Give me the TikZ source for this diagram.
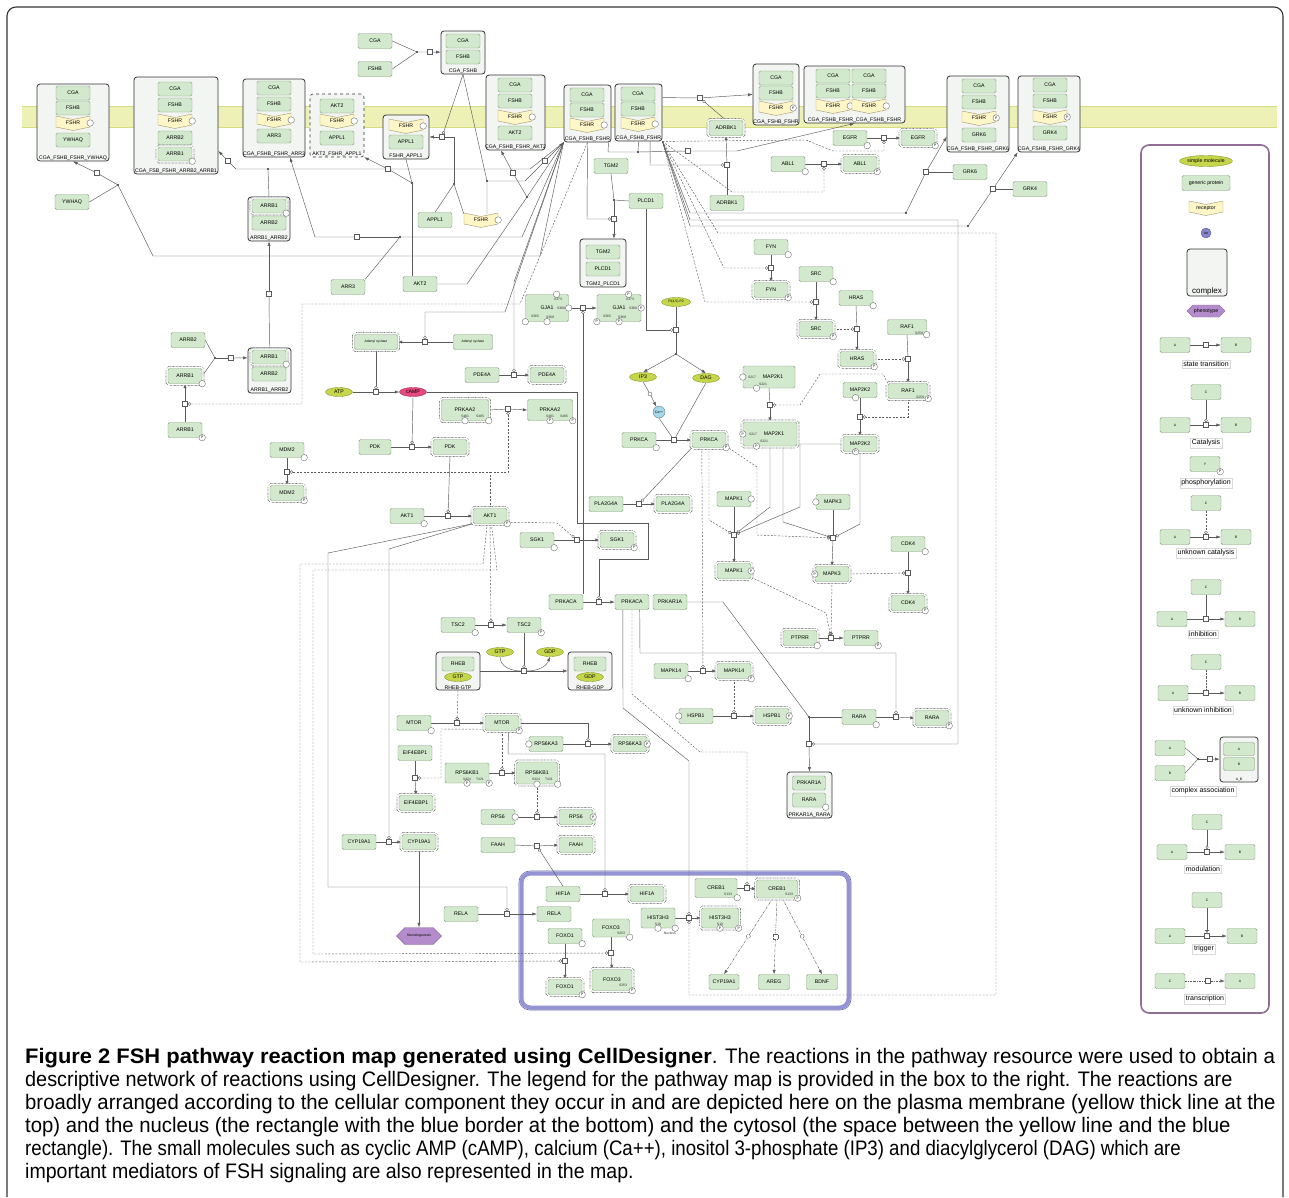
\documentclass[tikz,border=0pt]{standalone}
\usepackage{fontspec}
\usepackage{graphicx}
\setmainfont{Liberation Sans}
\newfontfamily\capfont[FakeStretch=0.946, BoldFeatures={FakeStretch=1.01}]{Liberation Sans}
\usetikzlibrary{positioning,fit,shapes.geometric,shapes.symbols,arrows,arrows.meta}

\definecolor{protfill}{HTML}{D3E9CD}
\definecolor{protline}{HTML}{7E9E7A}
\definecolor{actline}{HTML}{707070}
\definecolor{rcptfill}{HTML}{FFF6C8}
\definecolor{rcptline}{HTML}{A69E72}
\definecolor{membfill}{HTML}{EEF1B6}
\definecolor{membline}{HTML}{D6DC82}
\definecolor{cplxfill}{HTML}{F3F5F3}
\definecolor{molfill}{HTML}{C6D64A}
\definecolor{molline}{HTML}{8C9A30}
\definecolor{campfill}{HTML}{E8487C}
\definecolor{cafill}{HTML}{A6D8EA}
\definecolor{phenfill}{HTML}{B48CCB}
\definecolor{phenline}{HTML}{8A6AA0}
\definecolor{ionfill}{HTML}{8585C8}
\definecolor{linec}{HTML}{5A5A5A}
\definecolor{nucl}{HTML}{9494D4}
\definecolor{nucldark}{HTML}{6464AA}
\definecolor{legline}{HTML}{8E6E92}

\newcommand{\nodefont}{\fontsize{5.2}{6}\selectfont}
\newcommand{\resfont}{\fontsize{3.4}{3.6}\selectfont}
\newcommand{\legfont}{\fontsize{7}{8}\selectfont}

\pgfdeclarelayer{back}
\pgfdeclarelayer{wires}
\pgfsetlayers{back,wires,main}

\tikzstyle{prot} = [rectangle, rounded corners=1.5pt, draw=protline, fill=protfill, minimum width=34pt, minimum height=15pt, inner sep=0.5pt, font=\nodefont]
\tikzstyle{act} = [prot, preaction={draw=actline, line width=4.6pt, dash pattern=on 0.7pt off 0.7pt}, preaction={draw=white, line width=3.3pt}]
\tikzstyle{inp} = [prot, minimum height=14pt]
\tikzstyle{res} = [circle, draw=black!55, fill=white, inner sep=0pt, minimum size=6.5pt, font=\resfont, anchor=center]
\tikzstyle{site} = [inner sep=0pt, font=\resfont, text=black!80]
\tikzstyle{rtext} = [inner sep=0pt, minimum width=34pt, minimum height=12pt, font=\nodefont]
\tikzstyle{mol} = [ellipse, draw=molline, fill=molfill, minimum width=27pt, minimum height=9pt, inner sep=0pt, font=\nodefont]
\tikzstyle{cplx} = [rectangle, rounded corners=3pt, draw=black!80, line width=0.8pt, fill=cplxfill, inner sep=0pt]
\tikzstyle{clab} = [anchor=south, inner sep=1pt, font=\nodefont]
\tikzstyle{phen} = [signal, signal to=west and east, draw=phenline, fill=phenfill, minimum width=45pt, minimum height=17pt, inner sep=1pt, font=\nodefont]
\tikzstyle{sq} = [rectangle, draw=linec, fill=white, minimum size=5pt, inner sep=0pt]
\tikzstyle{sqc} = [circle, draw=linec, fill=white, minimum size=4pt, inner sep=0pt]
\tikzstyle{jn} = [circle, fill=black!85, minimum size=2.2pt, inner sep=0pt]
\tikzstyle{ln} = [draw=linec, line width=0.45pt]
\tikzstyle{line} = [ln, -{Latex[length=4.5pt,width=3.2pt]}]
\tikzstyle{cat} = [ln, -{Circle[open,length=3.4pt,width=3.4pt]}]
\tikzstyle{ucat} = [cat, dash pattern=on 2pt off 1.5pt]
\tikzstyle{tx} = [line, dash pattern=on 2.5pt off 1pt on 0.6pt off 1pt]
\tikzstyle{lgl} = [draw=black!15, fill=white, inner sep=1.5pt, font=\legfont]
\tikzstyle{lgp} = [prot, minimum width=30pt, font=\resfont]
\tikzset{ph/.style={label={[res]#1:P}}, ph/.default=south east,
         em/.style={label={[res]#1:}}, em/.default=south east}

% receptor: name, x, y, text
\newcommand{\rcpt}[5][]{%
  \filldraw[fill=rcptfill, draw=rcptline, line width=0.45pt] (#3-17,#4-7) -- (#3,#4-3.5) -- (#3+17,#4-7) -- (#3+17,#4+4) -- (#3,#4+7.5) -- (#3-17,#4+4) -- cycle;
  \node[rtext,#1] (#2) at (#3,#4) {#5};}

\begin{document}
\begin{tikzpicture}[x=1pt, y=-1pt]
\useasboundingbox (0,0) rectangle (1289,1197);

% frame, membrane, nucleus, legend box
\begin{pgfonlayer}{back}
\fill[white] (0,0) rectangle (1289,1197);
\draw[line width=1.1pt, black!80, rounded corners=9pt] (7,1197) -- (7,7) -- (1283,7) -- (1283,1197);
\fill[membfill] (22,106) rectangle (1277,127);
\draw[membline, line width=0.8pt] (22,106) -- (1277,106) (22,127) -- (1277,127);
\draw[nucl, line width=4pt, rounded corners=9pt] (521.5,873.5) rectangle (848.5,1007.5);
\draw[nucldark, line width=0.6pt, rounded corners=11pt] (519,871) rectangle (851,1010);
\draw[legline, line width=1.6pt, rounded corners=8pt] (1141,145) rectangle (1269,1013);
\end{pgfonlayer}

% ---- complexes at the membrane
\node[cplx, fit={(37,84) (109,161)}, label={[clab]south:CGA\_FSHB\_FSHR\_YWHAQ}] (cYW) {};
\node[inp] (cYWa) at (73,93) {CGA};
\node[inp] (cYWb) at (73,108) {FSHB};
\rcpt[em=east]{cYWr}{73}{123}{FSHR}
\node[inp] (cYWy) at (73,140) {YWHAQ};

\node[cplx, fit={(134,77) (218,174)}, label={[clab]south:CGA\_FSB\_FSHR\_ARRB2\_ARRB1}] (cAR) {};
\node[inp] (cARa) at (175,89) {CGA};
\node[inp] (cARb) at (175,105) {FSHB};
\rcpt[em=east]{cARr}{175}{121}{FSHR}
\node[inp] (cARc) at (175,138) {ARRB2};
\node[act, minimum height=14pt, em] (cARd) at (175,154) {ARRB1};

\node[cplx, fit={(243,79) (305,157)}, label={[clab]south:CGA\_FSHB\_FSHR\_ARR3}] (cA3) {};
\node[inp] (cA3a) at (274,88) {CGA};
\node[inp] (cA3b) at (274,104) {FSHB};
\rcpt[em=east]{cA3r}{274}{120}{FSHR}
\node[inp] (cA3c) at (274,136) {ARR3};

\node[cplx, dashed, line width=0.6pt, fit={(310,94) (364,157)}, label={[clab]south:AKT2\_FSHR\_APPL1}] (cAK) {};
\node[inp] (cAKa) at (337,106) {AKT2};
\rcpt[em=east]{cAKr}{337}{121}{FSHR}
\node[inp] (cAKb) at (337,138) {APPL1};

\node[cplx, fit={(383,115) (429,159)}, label={[clab]south:FSHR\_APPL1}] (cFA) {};
\rcpt[em=east]{cFAr}{406}{126}{FSHR}
\node[inp] (cFAa) at (406,142) {APPL1};

\node[cplx, fit={(441,31) (485,74)}, label={[clab]south:CGA\_FSHB}] (cCF) {};
\node[inp] (cCFa) at (463,41) {CGA};
\node[inp] (cCFb) at (463,57) {FSHB};

\node[cplx, fit={(486,75) (545,150)}, label={[clab]south:CGA\_FSHB\_FSHR\_AKT2}] (cCAK) {};
\node[inp] (cCAKa) at (515,85) {CGA};
\node[inp] (cCAKb) at (515,101) {FSHB};
\rcpt[em=east]{cCAKr}{515}{117}{FSHR}
\node[inp] (cCAKc) at (515,133) {AKT2};

\node[cplx, fit={(564,85) (611,142)}, label={[clab]south:CGA\_FSHB\_FSHR}] (c1) {};
\node[inp] (c1a) at (587,95) {CGA};
\node[inp] (c1b) at (587,110) {FSHB};
\rcpt[em=east]{c1r}{587}{125}{FSHR}

\node[cplx, fit={(615,84) (662,141)}, label={[clab]south:CGA\_FSHB\_FSHR}] (c2) {};
\node[inp] (c2a) at (638,94) {CGA};
\node[inp] (c2b) at (638,109) {FSHB};
\rcpt[em=east]{c2r}{638}{124}{FSHR}

\node[cplx, fit={(753,64) (799,125)}, label={[clab]south:CGA\_FSHB\_FSHR}] (c3) {};
\node[inp] (c3a) at (776,78) {CGA};
\node[inp] (c3b) at (776,93) {FSHB};
\rcpt[ph=east]{c3r}{776}{108}{FSHR}

\node[cplx, fit={(804,66) (905,123)}, label={[clab]south:CGA\_FSHB\_FSHR\_CGA\_FSHB\_FSHR}] (cD) {};
\node[inp] (cDa) at (833,76) {CGA};
\node[inp] (cDb) at (869,76) {CGA};
\node[inp] (cDc) at (833,91) {FSHB};
\node[inp] (cDd) at (869,91) {FSHB};
\rcpt[em=east]{cDr}{833}{106}{FSHR}
\rcpt[em=east]{cDs}{869}{106}{FSHR}

\node[cplx, fit={(947,76) (1009,152)}, label={[clab]south:CGA\_FSHB\_FSHR\_GRK6}] (cG6) {};
\node[inp] (cG6a) at (979,86) {CGA};
\node[inp] (cG6b) at (979,102) {FSHB};
\rcpt[ph=east]{cG6r}{979}{118}{FSHR}
\node[inp] (cG6c) at (979,135) {GRK6};

\node[cplx, fit={(1018,76) (1080,152)}, label={[clab]south:CGA\_FSHB\_FSHR\_GRK4}] (cG4) {};
\node[inp] (cG4a) at (1050,85) {CGA};
\node[inp] (cG4b) at (1050,101) {FSHB};
\rcpt[ph=east]{cG4r}{1050}{117}{FSHR}
\node[inp] (cG4c) at (1050,133) {GRK4};

% ---- other complexes
\node[cplx, fit={(580,239) (626,287)}, label={[clab]south:TGM2\_PLCD1}] (cTP) {};
\node[inp] (cTPa) at (603,252) {TGM2};
\node[inp] (cTPb) at (603,269) {PLCD1};

\node[cplx, fit={(248,197) (290,241)}, label={[clab]south:ARRB1\_ARRB2}] (cAB) {};
\node[act, minimum height=14pt, em] (cABa) at (269,206) {ARRB1};
\node[inp] (cABb) at (269,223) {ARRB2};

\node[cplx, fit={(248,348) (291,393)}, label={[clab]south:ARRB1\_ARRB2}] (cAB2) {};
\node[act, minimum height=14pt, em] (cAB2a) at (269,357) {ARRB1};
\node[inp] (cAB2b) at (269,374) {ARRB2};

\node[cplx, fit={(436,652) (480,690)}, label={[clab]south:RHEB-GTP}] (cRG) {};
\node[inp, minimum width=32pt] (cRGa) at (458,664) {RHEB};
\node[mol] (cRGb) at (458,677) {GTP};

\node[cplx, fit={(568,652) (612,690)}, label={[clab]south:RHEB-GDP}] (cRD) {};
\node[inp, minimum width=32pt] (cRDa) at (590,664) {RHEB};
\node[mol] (cRDb) at (590,677) {GDP};

\node[cplx, fit={(787,772) (832,818)}, label={[clab]south:PRKAR1A\_RARA}] (cPR) {};
\node[inp, minimum width=33pt] (cPRa) at (809,783) {PRKAR1A};
\node[inp, minimum width=33pt, em] (cPRb) at (809,800) {RARA};

% ---- species
\node[prot] (cgaF) at (375,41) {CGA};
\node[prot] (fshbF) at (375,69) {FSHB};
\node[prot] (ywhaq) at (72,202) {YWHAQ};
\node[prot] (appl1) at (435,220) {APPL1};
\rcpt[em=east]{fshrF}{481}{220}{FSHR}
\node[prot] (arr3) at (348,287) {ARR3};
\node[prot] (akt2) at (420,284) {AKT2};
\node[prot] (tgm2) at (611,166) {TGM2};
\node[prot] (plcd1) at (646,201) {PLCD1};
\node[act] (adrbkA) at (726,128) {ADRBK1};
\node[prot] (adrbk) at (727,203) {ADRBK1};
\node[prot, em] (egfr) at (850,138) {EGFR};
\node[act, ph] (egfrA) at (918,138) {EGFR};
\node[prot, em] (abl1) at (788,164) {ABL1};
\node[act, ph] (abl1A) at (860,164) {ABL1};
\node[prot] (grk6) at (970,172) {GRK6};
\node[prot] (grk4) at (1030,189) {GRK4};
\node[prot, em] (fyn) at (771,247) {FYN};
\node[act, ph] (fynA) at (771,290) {FYN};
\node[prot, em] (src) at (816,274) {SRC};
\node[act, ph] (srcA) at (816,329) {SRC};
\node[prot, em] (hras) at (856,298) {HRAS};
\node[act, ph] (hrasA) at (857,359) {HRAS};
\node[prot, minimum width=39pt, em] (raf1) at (907,327) {RAF1};
\node[site] (raf1s) at (919,333) {S259};
\node[act, minimum width=40pt, ph] (raf1A) at (908,391) {RAF1};
\node[site] (raf1As) at (920,397) {S259};
\node[prot, minimum width=52pt, minimum height=22pt, em=west, em=222] (map2k1) at (769,377) {\hspace{8pt}MAP2K1};
\node[site] (map2k1s) at (752,377) {S217};
\node[site] (map2k1t) at (763,384) {S221};
\node[act, minimum width=54pt, minimum height=24pt, ph=west, ph=222] (map2k1A) at (770,434) {\hspace{8pt}MAP2K1};
\node[site] (map2k1As) at (753,434) {S217};
\node[site] (map2k1At) at (764,441) {S221};
\node[prot, em=240] (map2k2) at (860,390) {MAP2K2};
\node[act, ph=240] (map2k2A) at (860,444) {MAP2K2};
\node[prot, em=east] (mapk1) at (734,499) {MAPK1};
\node[act, ph=east] (mapk1A) at (734,571) {MAPK1};
\node[prot, em=west] (mapk3) at (833,502) {MAPK3};
\node[act, ph=west] (mapk3A) at (832,574) {MAPK3};
\node[prot, em] (cdk4) at (908,544) {CDK4};
\node[act, ph] (cdk4A) at (908,603) {CDK4};
\node[act, em] (ptprrA) at (800,638) {PTPRR};
\node[prot, ph] (ptprr) at (861,638) {PTPRR};
\node[prot] (arrb2) at (188,340) {ARRB2};
\node[act, em] (arrb1A) at (185,376) {ARRB1};
\node[prot, ph] (arrb1) at (185,430) {ARRB1};
\node[act, minimum width=43pt, font=\resfont] (adcA) at (376,342) {Adenyl cyclase};
\node[prot, minimum width=39pt, font=\resfont] (adc) at (473,342) {Adenyl cyclase};
\node[mol] (atp) at (339,392) {ATP};
\node[mol, fill=campfill, draw=campfill!70!black] (camp) at (413,392) {cAMP};
\node[prot, minimum width=32pt] (pdk) at (375,447) {PDK};
\node[act] (pdkA) at (450,447) {PDK};
\node[prot, em] (mdm2) at (287,450) {MDM2};
\node[act, ph] (mdm2A) at (287,493) {MDM2};
\node[prot, em] (akt1) at (407,516) {AKT1};
\node[act, ph] (akt1A) at (490,516) {AKT1};
\node[prot, minimum width=43pt, minimum height=27pt, em=55, em=east, em=south west, em=south] (gja1) at (547,308) {GJA1};
\node[site] (gja1s) at (558,299) {S373};
\node[site] (gja1t) at (561,308) {S368};
\node[site] (gja1u) at (535,316) {S365};
\node[site] (gja1v) at (550,317) {S369};
\node[prot, minimum width=44pt, minimum height=27pt, ph=55, ph=east, ph=south west, ph=south] (gja1A) at (619,308) {GJA1};
\node[site] (gja1As) at (630,299) {S373};
\node[site] (gja1At) at (633,308) {S368};
\node[site] (gja1Au) at (607,316) {S365};
\node[site] (gja1Av) at (622,317) {S369};
\node[mol, minimum width=29pt, font=\resfont] (pip2) at (676,302) {PI(4,5)-P2};
\node[mol] (ip3) at (643,377) {IP3};
\node[mol] (dag) at (706,378) {DAG};
\node[circle, draw=cafill!60!black, fill=cafill, minimum size=12pt, inner sep=0pt, font=\resfont] (ca) at (659,412) {Ca++};
\node[prot, em] (prkca) at (639,440) {PRKCA};
\node[act, ph] (prkcaA) at (709,440) {PRKCA};
\node[prot] (pla2) at (606,504) {PLA2G4A};
\node[act] (pla2A) at (673,504) {PLA2G4A};
\node[prot] (pde4a) at (482,375) {PDE4A};
\node[act] (pde4aA) at (547,375) {PDE4A};
\node[act, minimum width=47pt, minimum height=21pt, em=south, em=south east] (prkaa2) at (465,410) {PRKAA2};
\node[site] (prkaa2s) at (465,416) {S481};
\node[site] (prkaa2t) at (480,416) {S485};
\node[prot, minimum width=45pt, minimum height=21pt, ph=south, ph=south east] (prkaa2P) at (550,410) {PRKAA2};
\node[site] (prkaa2Ps) at (550,416) {S481};
\node[site] (prkaa2Pt) at (564,416) {S485};
\node[prot, em] (sgk1) at (537,540) {SGK1};
\node[act, ph] (sgk1A) at (617,540) {SGK1};
\node[prot] (prkaca) at (566,602) {PRKACA};
\node[prot] (prkacaA) at (632,602) {PRKACA};
\node[prot] (prkar1a) at (670,602) {PRKAR1A};
\node[prot, em] (tsc2) at (458,625) {TSC2};
\node[prot, ph] (tsc2P) at (524,625) {TSC2};
\node[mol] (gtp) at (500,652) {GTP};
\node[mol] (gdp) at (550,652) {GDP};
\node[prot, em] (mtor) at (414,723) {MTOR};
\node[act, ph] (mtorA) at (502,723) {MTOR};
\node[prot, em=west] (rsk) at (546,744) {RPS6KA3};
\node[act, ph=east] (rskA) at (630,744) {RPS6KA3};
\node[prot] (eif) at (415,753) {EIF4EBP1};
\node[act] (eifA) at (416,803) {EIF4EBP1};
\node[prot, minimum width=44pt, minimum height=20pt, ph=south, ph=south east] (s6k) at (467,773) {RPS6KB1};
\node[site] (s6ks) at (467,779) {S424};
\node[site] (s6kt) at (480,779) {T421};
\node[act, minimum width=41pt, minimum height=22pt, em=south, em=south east] (s6kA) at (537,773) {RPS6KB1};
\node[site] (s6kAs) at (536,779) {S424};
\node[site] (s6kAt) at (549,779) {T421};
\node[prot, em=east] (rps6) at (498,817) {RPS6};
\node[act, ph=east] (rps6A) at (576,817) {RPS6};
\node[prot] (faah) at (498,845) {FAAH};
\node[act] (faahA) at (576,845) {FAAH};
\node[prot] (cyp) at (359,842) {CYP19A1};
\node[act] (cypA) at (419,842) {CYP19A1};
\node[phen, font=\resfont] (ster) at (419,936) {Steroidogenesis};
\node[prot] (rela) at (461,914) {RELA};
\node[prot] (relaN) at (554,914) {RELA};
\node[prot] (hif) at (563,894) {HIF1A};
\node[act] (hifA) at (647,894) {HIF1A};
\node[prot, em] (foxo1) at (565,936) {FOXO1};
\node[act, ph] (foxo1A) at (565,987) {FOXO1};
\node[prot, minimum width=37pt, minimum height=18pt, em] (foxo3) at (611,928) {FOXO3};
\node[site] (foxo3s) at (621,933) {S253};
\node[act, minimum width=40pt, minimum height=21pt, ph] (foxo3A) at (612,980) {FOXO3};
\node[site] (foxo3As) at (623,985) {S253};
\node[prot, minimum height=20pt, em=south, em=south east] (h3) at (658,918) {HIST3H3};
\node[site] (h3s) at (658,924) {S10};
\node[site] (h3n) at (670,933) {Nucleus};
\node[act, minimum width=37pt, minimum height=20pt, ph=south, ph=south east] (h3A) at (720,918) {HIST3H3};
\node[site] (h3As) at (720,924) {S10};
\node[prot, minimum width=42pt, minimum height=19pt, em] (creb) at (716,888) {CREB1};
\node[site] (crebs) at (728,894) {S133};
\node[act, minimum width=41pt, minimum height=18pt, ph] (crebA) at (777,889) {CREB1};
\node[site] (crebAs) at (789,894) {S133};
\node[prot, minimum width=30pt] (cypN) at (724,982) {CYP19A1};
\node[prot, minimum width=31pt] (areg) at (774,982) {AREG};
\node[prot, minimum width=31pt] (bdnf) at (822,982) {BDNF};
\node[prot, em] (p38) at (671,671) {MAPK14};
\node[act, ph] (p38A) at (734,671) {MAPK14};
\node[prot, em=west] (hspb1) at (696,716) {HSPB1};
\node[act, ph=east] (hspb1A) at (772,716) {HSPB1};
\node[prot, em] (rara) at (859,717) {RARA};
\node[act, ph] (raraA) at (932,718) {RARA};

% ---- reaction squares and joins
\node[jn] (m1) at (417,52) {};   \node[sq] (s1) at (430,52) {};
\node[jn] (m2) at (454,184) {};  \node[sq] (s2) at (442,137) {};
\node[jn] (m3) at (487,181) {};  \node[sq] (s3) at (545,161) {};
\node[jn] (m4) at (412,183) {};  \node[sq] (s4) at (388,169) {};
\node[jn] (m5) at (268,169) {};  \node[sq] (s5) at (228,161) {};
\node[jn] (m6) at (400,237) {};  \node[sq] (s6) at (357,237) {};
\node[jn] (m7) at (118,185) {};  \node[sq] (s7) at (97,173) {};
\node[jn] (m8) at (527,197) {};  \node[sq] (s8) at (513,173) {};
\node[sq] (s9) at (269,294) {};
\node[jn] (m10) at (215,358) {}; \node[sq] (s10) at (231,358) {};
\node[sq] (s11) at (185,404) {};
\node[sq] (s12) at (425,342) {};
\node[sq] (s13) at (376,392) {};
\node[sq] (s14) at (412,447) {};
\node[sq] (s15) at (287,472) {};
\node[sq] (s16) at (448,516) {};
\node[sq] (s17) at (514,375) {};
\node[sq] (s18) at (508,409) {};
\node[sq] (s19) at (583,308) {};
\node[sq] (s20) at (676,330) {};  \node[jn] (d1) at (676,354) {};
\node[sqc] (s21) at (650,394) {};
\node[sq] (s22) at (674,440) {};
\node[sq] (s23) at (639,504) {};
\node[sq] (s24) at (577,540) {};
\node[sq] (s25) at (599,602) {};
\node[sq] (s26) at (491,625) {};
\node[sq] (s27) at (524,671) {};
\node[sq] (s28) at (457,723) {};
\node[sq] (s29) at (588,744) {};
\node[sq] (s30) at (415,778) {};
\node[sq] (s31) at (502,773) {};
\node[sq] (s32) at (537,817) {};
\node[sq] (s33) at (537,846) {};
\node[sq] (s34) at (389,842) {};
\node[sq] (s35) at (507,914) {};
\node[sq] (s36) at (605,894) {};
\node[sq] (s37) at (565,961) {};
\node[sq] (s38) at (611,953) {};
\node[sq] (s39) at (689,918) {};
\node[sq] (s40) at (747,888) {};
\node[sq] (s41) at (703,671) {};
\node[sq] (s42) at (734,716) {};
\node[sq] (s43) at (896,717) {};
\node[jn] (m44) at (809,717) {}; \node[sq] (s44) at (809,744) {};
\node[sq] (s45) at (770,405) {};
\node[sq] (s46) at (860,417) {};
\node[sq] (s47) at (734,535) {};
\node[sq] (s48) at (833,538) {};
\node[sq] (s49) at (908,573) {};
\node[sq] (s50) at (831,638) {};
\node[sq] (s51) at (771,268) {};
\node[sq] (s52) at (816,302) {};
\node[sq] (s53) at (857,329) {};
\node[sq] (s54) at (908,359) {};
\node[sq] (s55) at (727,165) {};
\node[sq] (s56) at (884,138) {};
\node[sq] (s57) at (824,164) {};
\node[jn] (m58) at (638,152) {}; \node[sq] (s58) at (688,151) {};
\node[sq] (s59) at (700,98) {};
\node[jn] (m60) at (906,213) {}; \node[sq] (s60) at (926,172) {};
\node[jn] (m61) at (968,226) {}; \node[sq] (s61) at (993,189) {};
\node[jn] (m62) at (614,200) {}; \node[sq] (s62) at (614,219) {};
\coordinate (k1) at (490,472);

% ---- connectors
\begin{pgfonlayer}{wires}
% membrane complexes
\draw[ln] (cgaF.east) -- (m1) -- (s1);
\draw[ln] (fshbF.east) -- (m1);
\draw[line] (s1) -- (cCF);
\draw[ln] (appl1.north) -- (m2);
\draw[ln] (fshrF.north west) -- (m2);
\draw[ln] (m2) -- (454,137) -- (s2);
\draw[line] (s2) -- (cFA.east);
\draw[cat] (cCF.south) -- (s2);
\draw[ln] (cCF.south) -- (m3) -- (fshrF.north -| m3);
\draw[ln] (m3) -- (525,181) -- (s3);
\draw[line] (s3) -- (c1.south west);
\draw[ln] (cFA.south) -- (m4);
\draw[ln] (akt2.north -| m4) -- (m4);
\draw[ln] (m4) -- (s4);
\draw[line] (s4) -- (cAK.south east);
\draw[ln] (akt2.east) -- (467,284) -- (m8);
\draw[ln] (c1.south west) -- (m8) -- (s8);
\draw[line] (s8) -- (cCAK.249);
\draw[ln] (c1.south west) -- (530,169) -- (m5);
\draw[ln] (cAB.north) -- (m5);
\draw[ln] (m5) -- (236,169) -- (s5);
\draw[line] (s5) -- (cAR.-31);
\draw[ln] (c1.south west) -- (522,237) -- (m6);
\draw[ln] (arr3.north east) -- (m6);
\draw[ln] (m6) -- (s6);
\draw[line] (s6) -- (315,237) -- (cA3.-68);
\draw[ln] (c1.south west) -- (540,256) -- (153,256) -- (m7);
\draw[ln] (ywhaq.east) -- (m7);
\draw[ln] (m7) -- (s7);
\draw[line] (s7) -- (cYW.south);
\draw[ln] (cAB2.north) -- (s9);
\draw[line] (s9) -- (cAB.south);
\draw[ln] (arrb2.east) -- (m10);
\draw[ln] (arrb1A.east) -- (m10);
\draw[ln] (m10) -- (s10);
\draw[line] (s10) -- (cAB2.150);
\draw[ln] (arrb1.north) -- (s11);
\draw[line] (s11) -- (arrb1A.south);
\draw[ucat] (c1.south) -- (520,304) -- (302,304) -- (302,404) -- (s11);
% cAMP branch
\draw[ln] (adc.west) -- (s12);
\draw[line] (s12) -- (adcA.east);
\draw[cat] (c1.south west) -- (505,312) -- (425,312) -- (s12);
\draw[ln] (atp.east) -- (s13);
\draw[line] (s13) -- (camp.west);
\draw[cat] (adcA.south) -- (s13);
\draw[ln] (pdk.east) -- (s14);
\draw[line] (s14) -- (pdkA.west);
\draw[cat] (camp.south) -- (s14);
\draw[ln] (mdm2.south) -- (s15);
\draw[line] (s15) -- (mdm2A.north);
\draw[ucat] (akt1A.north) -- (k1) -- (s15);
\draw[ln] (akt1.east) -- (s16);
\draw[line] (s16) -- (akt1A.west);
\draw[cat] (pdkA.south) -- (s16);
\draw[ln] (pde4a.east) -- (s17);
\draw[line] (s17) -- (pde4aA.west);
\draw[cat] (c1.south west) -- (514,282) -- (s17);
\draw[ln] (prkaa2.east) -- (s18);
\draw[line] (s18) -- (prkaa2P.west);
\draw[ucat] (k1) -- (508,472) -- (s18);
\draw[ln] (gja1.east) -- (s19);
\draw[line] (s19) -- (gja1A.west);
\draw[cat] (prkaca.north -| s19) -- (s19);
% PLC branch
\draw[ln] (pip2.south) -- (s20) -- (d1);
\draw[line] (d1) -- (ip3.north);
\draw[line] (d1) -- (dag.north);
\draw[cat] (plcd1.south) -- (646,330) -- (s20);
\draw[ln] (ip3.south) -- (s21);
\draw[line] (s21) -- (ca);
\draw[ln] (prkca.east) -- (s22);
\draw[line] (s22) -- (prkcaA.west);
\draw[ln] (ca.south) -- (s22);
\draw[ln] (dag.south) -- (s22);
\draw[ln] (pla2.east) -- (s23);
\draw[line] (s23) -- (pla2A.west);
\draw[cat] (prkcaA.south west) -- (s23);
\draw[ln] (sgk1.east) -- (s24);
\draw[line] (s24) -- (sgk1A.west);
\draw[ucat] (akt1A.-20) -- (557,523) -- (s24);
\draw[ln] (prkaca.east) -- (s25);
\draw[line] (s25) -- (prkacaA.west);
\draw[cat] (camp.east) -- (577,392) -- (577,523) -- (648,523) -- (648,559) -- (599,559) -- (s25);
% mTOR branch
\draw[ln] (tsc2.east) -- (s26);
\draw[line] (s26) -- (tsc2P.west);
\draw[ucat] (akt1A.south) -- (s26);
\draw[ln] (cRG.east) -- (s27);
\draw[line] (s27) -- (cRD.west);
\draw[ln] (gtp.south) to[out=-90, in=180] (s27);
\draw[line] (s27) to[out=0, in=-110] (gdp.south);
\draw[cat] (tsc2P.south) -- (s27);
\draw[ln] (mtor.east) -- (s28);
\draw[line] (s28) -- (mtorA.west);
\draw[ucat] (cRG.south) -- (s28);
\draw[ln] (rsk.east) -- (s29);
\draw[line] (s29) -- (rskA.west);
\draw[cat] (mtorA.east) -- (588,723) -- (s29);
\draw[ln] (eif.south) -- (s30);
\draw[line] (s30) -- (eifA.north);
\draw[ucat] (mtorA.200) -- (441,729) -- (441,778) -- (s30);
\draw[ln] (s6k.east) -- (s31);
\draw[line] (s31) -- (s6kA.west);
\draw[ucat] (mtorA.south) -- (s31);
\draw[ln] (rps6.east) -- (s32);
\draw[line] (s32) -- (rps6A.west);
\draw[ucat] (s6kA.south) -- (s32);
\draw[ln] (faah.east) -- (s33);
\draw[line] (s33) -- (faahA.west);
\draw[cat] (hif.north) -- (s33);
\draw[ln] (cyp.east) -- (s34);
\draw[line] (s34) -- (cypA.west);
\draw[cat] (akt1A.south west) -- (389,549) -- (s34);
\draw[line] (cypA.south) -- (ster.north);
\draw[ln] (rela.east) -- (s35);
\draw[line] (s35) -- (relaN.west);
\draw[cat] (akt1A.south west) -- (328,553) -- (328,887) -- (507,887) -- (s35);
\draw[ln] (hif.east) -- (s36);
\draw[line] (s36) -- (hifA.west);
\draw[cat] (mtorA.-50) -- (508,754) -- (605,754) -- (s36);
\draw[ln] (foxo1.south) -- (s37);
\draw[line] (s37) -- (foxo1A.north);
\draw[ucat] (akt1A.-110) -- (483,564) -- (300,564) -- (300,962) -- (s37);
\draw[ln] (foxo3.south) -- (s38);
\draw[line] (s38) -- (foxo3A.north);
\draw[ucat] (akt1A.-80) -- (497,570) -- (313,570) -- (313,954) -- (s38);
% nucleus
\draw[ln] (h3.east) -- (s39);
\draw[line] (s39) -- (h3A.west);
\draw[cat] (prkacaA.-140) -- (623,708) -- (689,761) -- (s39);
\draw[ucat] (c2.south east) -- (718,233) -- (996,233) -- (996,995) -- (689,995) -- (s39);
\draw[ln] (creb.east) -- (s40);
\draw[line] (s40) -- (crebA.west);
\draw[ucat] (prkacaA.south) -- (632,694) -- (700,752) -- (747,752) -- (s40);
\draw[tx] (crebA.-115) -- node[sqc] (t1) {} (cypN.north);
\draw[tx] (crebA.south) -- node[sq] (t2) {} (areg.north);
\draw[tx] (crebA.-60) -- node[sqc] (t3) {} (bdnf.north);
% MAPK branch
\draw[ln] (p38.east) -- (s41);
\draw[line] (s41) -- (p38A.west);
\draw[ucat] (prkcaA.-133) -- (s41);
\draw[ln] (hspb1.east) -- (s42);
\draw[line] (s42) -- (hspb1A.west);
\draw[ucat] (p38A.south) -- (s42);
\draw[ln] (rara.east) -- (s43);
\draw[line] (s43) -- (raraA.west);
\draw[cat] (prkacaA.-45) -- (640,653) -- (896,653) -- (s43);
\draw[ln] (prkar1a.east) -- (723,602) -- (m44);
\draw[ln] (rara.west) -- (m44);
\draw[ln] (m44) -- (s44);
\draw[line] (s44) -- (cPR.north);
\draw[cat] (c2.south east) -- (690,220) -- (958,220) -- (958,744) -- (s44);
\draw[ln] (map2k1.south) -- (s45);
\draw[line] (s45) -- (map2k1A.north);
\draw[ucat] (raf1A.north west) -- (883,374) -- (820,374) -- (800,405) -- (s45);
\draw[ln] (map2k2.south) -- (s46);
\draw[line] (s46) -- (map2k2A.north);
\draw[ucat] (raf1A.south) -- (908,417) -- (s46);
\draw[ln] (mapk1.south) -- (s47);
\draw[line] (s47) -- (mapk1A.north);
\draw[cat] (map2k1A.south) -- (770,507) -- (s47);
\draw[cat] (map2k2A.west) -- (800,444) -- (800,507) -- (s47);
\draw[ucat] (prkcaA.south) -- (709,520) -- (s47);
\draw[ln] (mapk3.south) -- (s48);
\draw[line] (s48) -- (mapk3A.north);
\draw[cat] ([xshift=13pt]map2k1A.south) -- (783,522) -- (s48);
\draw[cat] (map2k2A.south) -- (860,524) -- (s48);
\draw[ucat] (prkcaA.-20) -- (757,467) -- (757,535) -- (s48);
\draw[ln] (cdk4.south) -- (s49);
\draw[line] (s49) -- (cdk4A.north);
\draw[ucat] (mapk3A.east) -- (s49);
\draw[ln] (ptprrA.east) -- (s50);
\draw[line] (s50) -- (ptprr.west);
\draw[ucat] (mapk1A.-20) -- (826,613) -- (s50);
\draw[ucat] (mapk3A.south) -- (s50);
% receptor signalling
\draw[ln] (fyn.south) -- (s51);
\draw[line] (s51) -- (fynA.north);
\draw[ucat] (c2.south east) -- (724,268) -- (s51);
\draw[ln] (src.south) -- (s52);
\draw[line] (s52) -- (srcA.north);
\draw[ucat] (c2.south east) -- (705,302) -- (s52);
\draw[ln] (hras.south) -- (s53);
\draw[line] (s53) -- (hrasA.north);
\draw[ucat] (srcA.east) -- (s53);
\draw[ln] (raf1.south) -- (s54);
\draw[line] (s54) -- (raf1A.north);
\draw[ucat] (hrasA.east) -- (s54);
\draw[ln] (adrbk.north) -- (s55);
\draw[line] (s55) -- (adrbkA.south);
\draw[cat] (c2.-68) -- (650,165) -- (s55);
\draw[ln] (egfr.east) -- (s56);
\draw[line] (s56) -- (egfrA.west);
\draw[ucat] (c2.south east) -- (806,140) -- (833,151) -- (884,151) -- (s56);
\draw[ln] (abl1.east) -- (s57);
\draw[line] (s57) -- (abl1A.west);
\draw[ucat] (c2.south east) -- (732,192) -- (824,192) -- (s57);
\draw[ln] (c1.-54) -- (608,152) -- (m58);
\draw[ln] (c2.south) -- (m58) -- (s58);
\draw[line] (s58) -- (737,151) -- (cD.south);
\draw[ln] (c2.32) -- (s59);
\draw[line] (s59) -- (c3.west);
\draw[cat] (adrbkA.north) -- (s59);
\draw[ln] (c2.south east) -- (690,213) -- (m60) -- (s60);
\draw[ln] (grk6.west) -- (s60);
\draw[line] (s60) -- (cG6.216);
\draw[ln] (c2.south east) -- (690,226) -- (m61) -- (s61);
\draw[ln] (grk4.west) -- (s61);
\draw[line] (s61) -- (cG4.south west);
\draw[ln] (tgm2.south) -- (m62);
\draw[ln] (plcd1.west) -- (m62);
\draw[ln] (m62) -- (s62);
\draw[line] (s62) -- (cTP.north -| s62);
\draw[cat] (c1.south) -- (587,219) -- (s62);
\end{pgfonlayer}

% ---- legend
\node[mol, minimum width=50pt, minimum height=11pt] (lgMol) at (1206,161) {simple molecule};
\node[prot, minimum width=48pt] (lgProt) at (1206,183) {generic protein};
\rcpt{lgRcpt}{1206}{208}{receptor}
\node[circle, fill=ionfill, draw=ionfill!70!black, minimum size=10pt, inner sep=0pt, font=\resfont] (lgIon) at (1206,233) {ion};
\node[cplx, minimum width=40pt, minimum height=47pt, label={[clab, font=\fontsize{8}{9}\selectfont]south:complex}] (lgCplx) at (1207,272.5) {};
\node[phen, minimum width=34pt, minimum height=12pt] (lgPhen) at (1206,311) {phenotype};

\node[lgp] (lgA1) at (1175,345) {A};
\node[lgp] (lgB1) at (1236,345) {B};
\node[sq] (lgS1) at (1206,345) {};
\draw[ln] (lgA1) -- (lgS1); \draw[line] (lgS1) -- (lgB1);
\node[lgl] (lgT1) at (1206,364) {state transition};

\node[lgp] (lgC2) at (1206,392) {C};
\node[lgp] (lgA2) at (1175,425) {A};
\node[lgp] (lgB2) at (1236,425) {B};
\node[sq] (lgS2) at (1206,425) {};
\draw[ln] (lgA2) -- (lgS2); \draw[line] (lgS2) -- (lgB2); \draw[cat] (lgC2) -- (lgS2);
\node[lgl] (lgT2) at (1206,443) {Catalysis};

\node[lgp, ph] (lgY3) at (1205,464) {Y};
\node[lgl] (lgT3) at (1206,483) {phosphorylation};

\node[lgp] (lgC4) at (1206,503) {C};
\node[lgp] (lgA4) at (1175,537) {A};
\node[lgp] (lgB4) at (1236,537) {B};
\node[sq] (lgS4) at (1206,537) {};
\draw[ln] (lgA4) -- (lgS4); \draw[line] (lgS4) -- (lgB4); \draw[ucat] (lgC4) -- (lgS4);
\node[lgl] (lgT4) at (1206,553) {unknown catalysis};

\node[lgp] (lgC5) at (1206,587) {C};
\node[lgp] (lgA5) at (1172,619) {A};
\node[lgp] (lgB5) at (1240,619) {B};
\node[sq] (lgS5) at (1206,619) {};
\draw[ln] (lgA5) -- (lgS5); \draw[line] (lgS5) -- (lgB5); \draw[ln, -{Bar[width=4pt]}] (lgC5) -- (lgS5);
\node[lgl] (lgT5) at (1203,634) {inhibition};

\node[lgp] (lgC6) at (1206,662) {C};
\node[lgp] (lgA6) at (1173,693) {A};
\node[lgp] (lgB6) at (1240,693) {B};
\node[sq] (lgS6) at (1206,693) {};
\draw[ln] (lgA6) -- (lgS6); \draw[line] (lgS6) -- (lgB6); \draw[ln, densely dotted, -{Bar[width=4pt]}] (lgC6) -- (lgS6);
\node[lgl] (lgT6) at (1203,710) {unknown inhibition};

\node[lgp] (lgA7) at (1170,748) {A};
\node[lgp] (lgB7) at (1170,773) {B};
\node[jn] (lgM7) at (1198,759) {};
\node[sq] (lgS7) at (1210,759) {};
\node[cplx, fit={(1220,737) (1258,782)}, label={[clab, font=\resfont]south:A\_B}] (lgK7) {};
\node[lgp, minimum width=31pt, minimum height=13pt] (lgKa) at (1239,749) {A};
\node[lgp, minimum width=31pt, minimum height=13pt] (lgKb) at (1239,764) {B};
\draw[ln] (lgA7.east) -- (lgM7); \draw[ln] (lgB7.east) -- (lgM7); \draw[ln] (lgM7) -- (lgS7); \draw[line] (lgS7) -- (lgK7);
\node[lgl] (lgT7) at (1203,791) {complex association};

\node[lgp] (lgC8) at (1207,822) {C};
\node[lgp] (lgA8) at (1172,852) {A};
\node[lgp] (lgB8) at (1240,852) {B};
\node[sq] (lgS8) at (1207,852) {};
\draw[ln] (lgA8) -- (lgS8); \draw[line] (lgS8) -- (lgB8); \draw[ln, -{Diamond[open,length=4pt,width=3pt]}] (lgC8) -- (lgS8);
\node[lgl] (lgT8) at (1203,869) {modulation};

\node[lgp] (lgC9) at (1207,900) {C};
\node[lgp] (lgA9) at (1170,936) {A};
\node[lgp] (lgB9) at (1242,936) {B};
\node[sq] (lgS9) at (1207,936) {};
\draw[ln] (lgA9) -- (lgS9); \draw[line] (lgS9) -- (lgB9); \draw[ln, -{Bar[width=4pt] Latex[open,length=3pt,width=3pt]}] (lgC9) -- (lgS9);
\node[lgl] (lgT9) at (1204,949) {trigger};

\node[lgp] (lgC10) at (1170,981) {C};
\node[lgp] (lgA10) at (1240,981) {A};
\node[sq] (lgS10) at (1208,981) {};
\draw[ln, dash pattern=on 2pt off 1pt on 0.6pt off 1pt] (lgC10) -- (lgS10); \draw[tx] (lgS10) -- (lgA10);
\node[lgl] (lgT10) at (1205,999) {transcription};

% ---- caption
\node[anchor=north west, inner sep=0pt, align=left, font=\capfont\fontsize{21}{23}\selectfont] (caption) at (25,1048)
{\scalebox{1.033}[1]{\textbf{Figure 2 FSH pathway reaction map generated using CellDesigner}. The reactions in the pathway resource were used to obtain a}\\
\scalebox{1.0}[1]{descriptive network of reactions using CellDesigner. The legend for the pathway map is provided in the box to the right. The reactions are}\\
\scalebox{1.023}[1]{broadly arranged according to the cellular component they occur in and are depicted here on the plasma membrane (yellow thick line at the}\\
\scalebox{1.023}[1]{top) and the nucleus (the rectangle with the blue border at the bottom) and the cytosol (the space between the yellow line and the blue}\\
\scalebox{0.94}[1]{rectangle). The small molecules such as cyclic AMP (cAMP), calcium (Ca++), inositol 3-phosphate (IP3) and diacylglycerol (DAG) which are}\\
\scalebox{0.984}[1]{important mediators of FSH signaling are also represented in the map.}};
\end{tikzpicture}
\end{document}
